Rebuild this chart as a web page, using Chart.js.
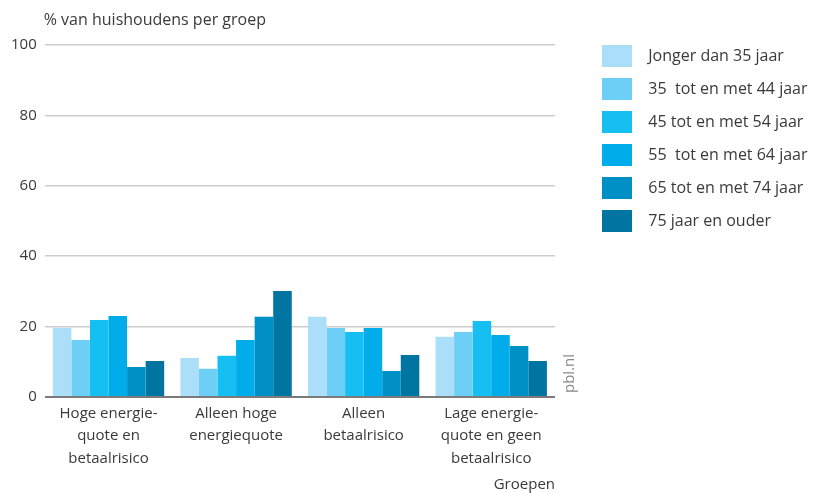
<!DOCTYPE html>
<html>
<head>
<meta charset="utf-8">
<script src="https://cdn.jsdelivr.net/npm/chart.js@4"></script>
<style>
    html, body { margin: 0; padding: 0; background: #fff; }
    #wrap { width: 813px; height: 493px; }
</style>
</head>
<body>
<div id="wrap"><canvas id="chart" width="813" height="493"></canvas></div>
<script>
// categorieën (x-as)
const groepen = [
    ['Hoge energie-', 'quote en', 'betaalrisico'],
    ['Alleen hoge', 'energiequote'],
    ['Alleen', 'betaalrisico'],
    ['Lage energie-', 'quote en geen', 'betaalrisico']
];

// leeftijdsklassen
const leeftijden = [
    'Jonger dan 35 jaar',
    '35  tot en met 44 jaar',
    '45 tot en met 54 jaar',
    '55  tot en met 64 jaar',
    '65 tot en met 74 jaar',
    '75 jaar en ouder'
];

// waarden per leeftijdsklasse (% per groep)
const jongerDan35 = [19.7, 11.1, 22.8, 17.1];
const van35tot44 = [16.2, 8.0, 19.6, 18.5];
const van45tot54 = [21.9, 11.7, 18.5, 21.6];
const van55tot64 = [23.0, 16.2, 19.6, 17.6];
const van65tot74 = [8.5, 22.8, 7.4, 14.5];
const vanaf75 = [10.2, 30.1, 11.9, 10.2];

const yTicks = [0, 20, 40, 60, 80, 100];

const kleuren = ['#abdff9', '#6dcff5', '#16bff1', '#00acea', '#0090c6', '#0075a1'];
const reeksen = [jongerDan35, van35tot44, van45tot54, van55tot64, van65tot74, vanaf75];

const tekstKleur = '#3a3a3a';
const lettertype = "'Open Sans', 'Noto Sans', sans-serif";

// legenda rechts, met ruimte tussen grafiek en legenda
const legendaRuimte = {
    id: 'legendaRuimte',
    beforeInit(chart) {
        const legend = chart.legend;
        const fit = legend.fit;
        legend.fit = function () {
            fit.call(this);
            this.width = 258;
        };
    },
    afterLayout(chart) {
        const legend = chart.legend;
        const pad = legend.options.labels.padding;
        legend.left = chart.chartArea.right + 47 - pad;
        legend.top = chart.chartArea.top - pad;
    }
};

// titel y-as en bronvermelding
const extraTeksten = {
    id: 'extraTeksten',
    afterDraw(chart) {
        const ctx = chart.ctx;
        const area = chart.chartArea;
        ctx.save();
        ctx.fillStyle = tekstKleur;
        ctx.font = '16px ' + lettertype;
        ctx.textAlign = 'left';
        ctx.textBaseline = 'middle';
        ctx.fillText('% van huishoudens per groep', area.left - 1, 20);

        ctx.translate(area.right + 15, area.bottom - 4);
        ctx.rotate(-Math.PI / 2);
        ctx.fillStyle = '#8a8a8a';
        ctx.font = '15px ' + lettertype;
        ctx.textAlign = 'left';
        ctx.fillText('pbl.nl', 0, 0);
        ctx.restore();
    }
};

new Chart(document.getElementById('chart'), {
    type: 'bar',
    data: {
        labels: groepen,
        datasets: reeksen.map((waarden, i) => ({
            label: leeftijden[i],
            data: waarden,
            backgroundColor: kleuren[i],
            borderWidth: 0,
            categoryPercentage: 0.873,
            barPercentage: 1.0
        }))
    },
    options: {
        responsive: false,
        animation: false,
        layout: {
            padding: { top: 45, left: 3, right: 0, bottom: 0 }
        },
        plugins: {
            legend: {
                position: 'right',
                align: 'start',
                maxWidth: 400,
                labels: {
                    boxWidth: 30,
                    boxHeight: 22,
                    padding: 11,
                    color: tekstKleur,
                    font: { family: lettertype, size: 16 },
                    generateLabels(chart) {
                        const items = Chart.defaults.plugins.legend.labels.generateLabels(chart);
                        items.forEach(item => { item.text = '  ' + item.text; });
                        return items;
                    }
                }
            },
            tooltip: { enabled: false }
        },
        scales: {
            x: {
                grid: { display: false, drawTicks: false },
                border: { display: false },
                ticks: {
                    color: tekstKleur,
                    padding: 5,
                    maxRotation: 0,
                    font: { family: lettertype, size: 15, lineHeight: 1.5 }
                },
                title: {
                    display: true,
                    text: 'Groepen',
                    align: 'end',
                    color: tekstKleur,
                    padding: { top: 2, bottom: 0 },
                    font: { family: lettertype, size: 15, lineHeight: 1.1 }
                }
            },
            y: {
                min: 0,
                max: 100,
                afterBuildTicks(axis) {
                    axis.ticks = yTicks.map(v => ({ value: v }));
                },
                grid: {
                    color: ctx => ctx.tick && ctx.tick.value === 0 ? '#7a7a7a' : '#cdcdcd',
                    lineWidth: ctx => ctx.tick && ctx.tick.value === 0 ? 2 : 1.5,
                    drawTicks: false
                },
                border: { display: false },
                ticks: {
                    color: tekstKleur,
                    padding: 8,
                    font: { family: lettertype, size: 15 }
                }
            }
        }
    },
    plugins: [legendaRuimte, extraTeksten]
});
</script>
</body>
</html>
